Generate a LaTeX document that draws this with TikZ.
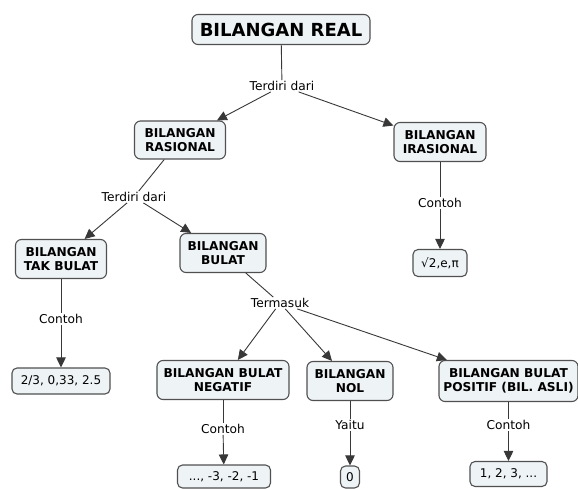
\documentclass[tikz,border=0pt]{standalone}
\usepackage{fontspec}
\setmainfont{DejaVu Sans}
\usetikzlibrary{arrows.meta}
\definecolor{boxfill}{HTML}{EEF3F6}
\definecolor{boxline}{HTML}{505050}
\definecolor{linkc}{HTML}{383838}
\begin{document}
\begin{tikzpicture}[x=1pt,y=-1pt,
  concept/.style={draw=boxline, line width=1.1pt, fill=boxfill, rounded corners=6pt, align=center, font=\fontsize{12.2}{14.5}\selectfont\bfseries, inner sep=2pt},
  leaf/.style={draw=boxline, line width=1.1pt, fill=boxfill, rounded corners=5pt, align=center, font=\fontsize{12}{14}\selectfont, inner sep=2pt},
  lab/.style={font=\fontsize{12.2}{14}\selectfont, inner sep=1pt},
  link/.style={draw=linkc, line width=0.9pt},
  arr/.style={link, -{Triangle[length=10pt,width=9.5pt]}}
]
\useasboundingbox (0,0) rectangle (578,489);
\fill[white] (0,0) rectangle (578,489);

\node[concept, minimum width=178pt, minimum height=30pt, font=\fontsize{18}{20}\selectfont\bfseries] (real) at (281,29.5) {BILANGAN REAL};
\node[lab] (l1) at (282,86) {Terdiri dari};
\node[concept, minimum width=91pt, minimum height=38pt] (ras) at (180,140) {BILANGAN\\RASIONAL};
\node[concept, minimum width=92pt, minimum height=39pt] (iras) at (440,142) {BILANGAN\\IRASIONAL};
\node[lab] (l2) at (134,197) {Terdiri dari};
\node[concept, minimum width=91pt, minimum height=39pt] (tak) at (61,259) {BILANGAN\\TAK BULAT};
\node[concept, minimum width=86pt, minimum height=39pt] (bul) at (223,253) {BILANGAN\\BULAT};
\node[lab] (l3) at (440,203) {Contoh};
\node[leaf, minimum width=54pt, minimum height=27pt] (irx) at (440,263) {√2,e,π};
\node[lab] (l4) at (61,319) {Contoh};
\node[leaf, minimum width=98pt, minimum height=26pt] (takx) at (61,381) {2/3, 0,33, 2.5};
\node[lab] (l5) at (280,303) {Termasuk};
\node[concept, minimum width=132pt, minimum height=39pt] (neg) at (223,380) {BILANGAN BULAT\\NEGATIF};
\node[concept, minimum width=86pt, minimum height=39pt] (nol) at (350,381) {BILANGAN\\NOL};
\node[concept, minimum width=139pt, minimum height=41pt] (pos) at (508.5,381) {BILANGAN BULAT\\POSITIF (BIL. ASLI)};
\node[lab] (l6) at (223,429) {Contoh};
\node[lab] (l7) at (350,425) {Yaitu};
\node[lab] (l8) at (508.5,425) {Contoh};
\node[leaf, minimum width=93pt, minimum height=23pt] (negx) at (224,476.5) {..., -3, -2, -1};
\node[leaf, minimum width=19pt, minimum height=22pt] (nolx) at (350,477) {0};
\node[leaf, minimum width=77pt, minimum height=25pt] (posx) at (508.5,474) {1, 2, 3, ...};

\draw[link] (real) -- (l1);
\draw[arr] (l1) -- (ras);
\draw[arr] (l1) -- (iras);
\draw[link] (ras) -- (l2);
\draw[arr] (l2) -- (tak);
\draw[arr] (l2) -- (bul);
\draw[link] (iras) -- (l3);
\draw[arr] (l3) -- (irx);
\draw[link] (tak) -- (l4);
\draw[arr] (l4) -- (takx);
\draw[link] (bul) -- (l5);
\draw[arr] (l5) -- (neg);
\draw[arr] (l5) -- (nol);
\draw[arr] (l5) -- (pos);
\draw[link] (neg) -- (l6);
\draw[arr] (l6) -- (negx);
\draw[link] (nol) -- (l7);
\draw[arr] (l7) -- (nolx);
\draw[link] (pos) -- (l8);
\draw[arr] (l8) -- (posx);
\end{tikzpicture}
\end{document}
